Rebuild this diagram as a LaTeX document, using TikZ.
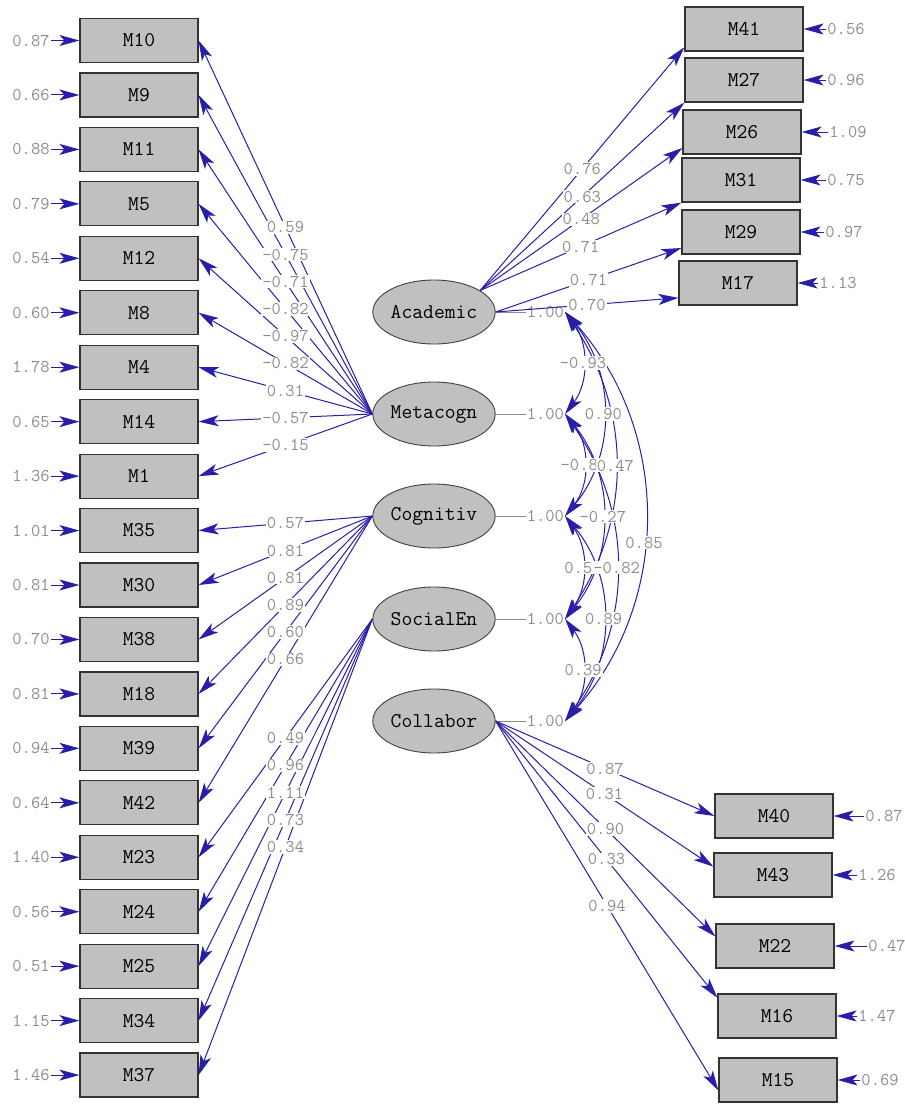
\documentclass[tikz,border=0pt]{standalone}
\usepackage{fontspec}
\usetikzlibrary{arrows.meta,positioning,shapes.geometric}

\definecolor{pathblue}{RGB}{40,30,170}
\definecolor{boxgray}{RGB}{192,192,192}
\definecolor{numgray}{RGB}{140,140,140}

% loadings: indicator/value (start and end anchors where needed)
\newcommand\metaload{10/0.59, 9/-0.75, 11/-0.71, 5/-0.82, 12/-0.97, 8/-0.82, 4/0.31, 14/-0.57, 1/-0.15}
\newcommand\cognload{35/0.57, 30/0.81, 38/0.81, 18/0.89, 39/0.60, 42/0.66}
\newcommand\socload{23/0.49, 24/0.96, 25/1.11, 34/0.73, 37/0.34}
\newcommand\acadload{41/25/197/0.76, 27/25/south west/0.63, 26/25/195/0.48, 31/25/south west/0.71, 29/east/195/0.71, 17/east/194/0.70}
\newcommand\collload{40/west/0.87, 43/172/0.31, 22/171/0.90, 16/163/0.33, 15/190/0.94}
% covariances: from/to/bend/pos/value
\newcommand\covlist{acad/meta/37/.5/-0.93, meta/cogn/39/.5/-0.88, cogn/soc/36/.5/0.55, soc/coll/37/.5/0.39, acad/cogn/40/.5/0.90, meta/soc/39/.5/-0.27, cogn/coll/40/.5/0.89, acad/soc/34/.5/0.47, meta/coll/35/.5/-0.82, acad/coll/42/.56/0.85}

\begin{document}
\begin{tikzpicture}[x=1pt, y=-1pt,
  arr/.style={-{Stealth[length=20pt,width=11pt,inset=5pt]}},
  darr/.style={{Stealth[length=20pt,width=11pt,inset=5pt]}-{Stealth[length=20pt,width=11pt,inset=5pt]}},
  obs/.style={draw=black!80, line width=1.2pt, fill=boxgray, minimum width=118pt, minimum height=44pt, font=\ttfamily\fontsize{21}{21}\selectfont},
  lat/.style={ellipse, draw=black!75, line width=0.9pt, fill=boxgray, minimum width=118pt, minimum height=64pt, inner sep=0pt, font=\ttfamily\fontsize{21}{21}\selectfont},
  num/.style={text=numgray, fill=white, inner sep=1pt, font=\ttfamily\fontsize{18}{18}\selectfont},
  ld/.style={pathblue, line width=1pt}]

\useasboundingbox (0,0) rectangle (905,1104);

%left indicators
\foreach \m/\e [count=\i from 0] in {10/0.87, 9/0.66, 11/0.88, 5/0.79, 12/0.54, 8/0.60, 4/1.78, 14/0.65, 1/1.36, 35/1.01, 30/0.81, 38/0.70, 18/0.81, 39/0.94, 42/0.64, 23/1.40, 24/0.56, 25/0.51, 34/1.15, 37/1.46}{
  \node[obs] (m\m) at (139,{40.5+54.45*\i}) {M\m};
  \node[num] (e\m) at (31,{40.5+54.45*\i}) {\e};
  \draw[ld,arr] (e\m) -- (m\m);
}

%right indicators
\foreach \m/\x/\y/\e/\ex in {41/744/29/0.56/846, 27/744/80/0.96/846, 26/742/132/1.09/848, 31/741/180/0.75/846, 29/741/232/0.97/844, 17/738/283/1.13/838, 40/774/816/0.87/884, 43/773/875/1.26/877, 22/775/946/0.47/887, 16/777/1016/1.47/877, 15/778/1080/0.69/880}{
  \node[obs] (m\m) at (\x,\y) {M\m};
  \node[num] (e\m) at (\ex,\y) {\e};
  \draw[ld,arr] (e\m) -- (m\m);
}

%latents
\node[lat] (acad) at (434,312) {Academic};
\node[lat] (meta) at (434,414) {Metacogn};
\node[lat] (cogn) at (434,516) {Cognitiv};
\node[lat] (soc) at (434,619) {SocialEn};
\node[lat] (coll) at (434,721) {Collabor};

\foreach \f in {acad,meta,cogn,soc,coll}{
  \node[num, fill=none] (var\f) [right=30pt of \f] {1.00};
  \draw[numgray, line width=0.7pt] (\f) -- (var\f);
}

%loadings
\foreach \m/\v in \metaload \draw[ld,arr] (meta.west) -- (m\m.east);
\foreach \m/\v in \cognload \draw[ld,arr] (cogn.west) -- (m\m.east);
\foreach \m/\v in \socload \draw[ld,arr] (soc.west) -- (m\m.east);
\foreach \m/\sa/\ta/\v in \acadload \draw[ld,arr] (acad.\sa) -- (m\m.\ta);
\foreach \m/\ta/\v in \collload \draw[ld,arr] (coll.east) -- (m\m.\ta);

%covariances
\foreach \a/\b/\bd/\ps/\v in \covlist \draw[ld,darr] (var\a.east) to[bend left=\bd] (var\b.east);

%values on top
\foreach \m/\v in \metaload \path (meta.west) -- node[num]{\v} (m\m.east);
\foreach \m/\v in \cognload \path (cogn.west) -- node[num]{\v} (m\m.east);
\foreach \m/\v in \socload \path (soc.west) -- node[num]{\v} (m\m.east);
\foreach \m/\sa/\ta/\v in \acadload \path (acad.\sa) -- node[num]{\v} (m\m.\ta);
\foreach \m/\ta/\v in \collload \path (coll.east) -- node[num]{\v} (m\m.\ta);
\foreach \a/\b/\bd/\ps/\v in \covlist \path (var\a.east) to[bend left=\bd] node[num,pos=\ps]{\v} (var\b.east);

\end{tikzpicture}
\end{document}
